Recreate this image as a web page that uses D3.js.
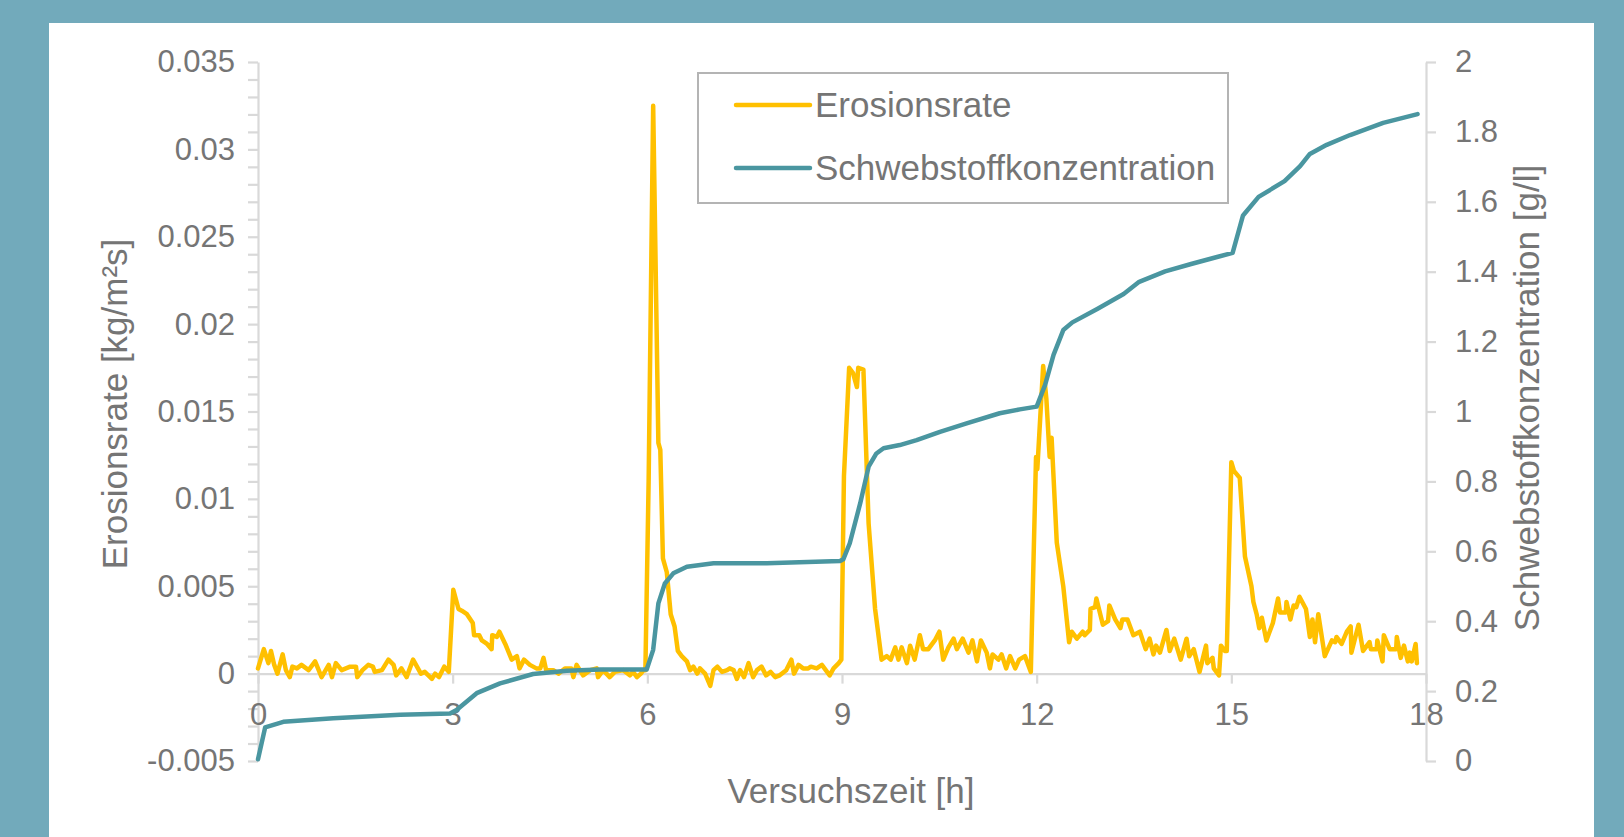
<!DOCTYPE html>
<html>
<head>
<meta charset="utf-8">
<script src="https://cdn.jsdelivr.net/npm/d3@7"></script>
<style>
  body { margin: 0; background: #72aabb; }
  svg { display: block; font-family: "Liberation Sans", Arial, sans-serif; }
</style>
</head>
<body>
<svg id="chart" width="1624" height="837"></svg>
<script>
// hours on the x axis
const xTicks = [0, 3, 6, 9, 12, 15, 18]

// left axis: erosion rate [kg/m²s]
const leftTicks = [-0.005, 0, 0.005, 0.01, 0.015, 0.02, 0.025, 0.03, 0.035]
const leftTickLabels = ["-0.005", "0", "0.005", "0.01", "0.015", "0.02", "0.025", "0.03", "0.035"]

// right axis: suspended sediment concentration [g/l]
const rightTicks = [0, 0.2, 0.4, 0.6, 0.8, 1, 1.2, 1.4, 1.6, 1.8, 2]
const rightTickLabels = ["0", "0.2", "0.4", "0.6", "0.8", "1", "1.2", "1.4", "1.6", "1.8", "2"]

const seriesNames = ["Erosionsrate", "Schwebstoffkonzentration"]

// Erosionsrate, time [h] and value [kg/m²s]
const erosionT = [
  0, 0.09, 0.16, 0.20, 0.25, 0.30, 0.38, 0.43, 0.49, 0.53, 0.60, 0.67, 0.78, 0.88, 0.98,
  1.09, 1.14, 1.20, 1.29, 1.42, 1.51, 1.53, 1.61, 1.70, 1.77, 1.80, 1.91, 2.01, 2.09, 2.13,
  2.21, 2.29, 2.39, 2.51, 2.57, 2.68, 2.73, 2.79, 2.87, 2.94,
  3.01, 3.09, 3.14, 3.22, 3.31, 3.33, 3.41, 3.45, 3.53, 3.60, 3.61, 3.68, 3.72, 3.81, 3.91,
  3.99, 4.03, 4.10, 4.19, 4.29, 4.35, 4.40, 4.44, 4.55, 4.63, 4.73, 4.83, 4.86, 4.91, 5.01,
  5.12, 5.22, 5.24, 5.32, 5.42, 5.50, 5.63, 5.73, 5.78, 5.84, 5.90, 5.94, 5.97,
  6.02, 6.09, 6.17, 6.20, 6.24, 6.30, 6.36, 6.42, 6.47, 6.53, 6.61, 6.66, 6.71, 6.77, 6.81,
  6.89, 6.97, 7.02, 7.08, 7.15, 7.23, 7.27, 7.33, 7.38, 7.43, 7.49, 7.56, 7.63, 7.69, 7.76,
  7.83, 7.90, 7.97, 8.04, 8.14, 8.22, 8.26, 8.33, 8.40, 8.48, 8.52, 8.61, 8.69, 8.75, 8.81,
  8.87, 8.95, 8.99,
  9.03, 9.11, 9.17, 9.23, 9.25, 9.33, 9.41, 9.51, 9.61, 9.69, 9.75, 9.82, 9.87, 9.92, 10.00,
  10.05, 10.12, 10.20, 10.25, 10.33, 10.43, 10.50, 10.56, 10.64, 10.72, 10.77, 10.86, 10.95,
  11.01, 11.08, 11.14, 11.23, 11.28, 11.32, 11.41, 11.46, 11.53, 11.59, 11.67, 11.73, 11.82, 11.91,
  11.99, 12.01, 12.10, 12.15, 12.20, 12.23, 12.31, 12.41, 12.50, 12.54, 12.62, 12.71, 12.74,
  12.82, 12.83, 12.90, 12.92, 13.02, 13.10, 13.12, 13.21, 13.29, 13.32, 13.40, 13.49, 13.59,
  13.68, 13.74, 13.80, 13.84, 13.90, 14.00, 14.05, 14.12, 14.22, 14.31, 14.35, 14.42, 14.51,
  14.61, 14.63, 14.71, 14.73, 14.81, 14.84, 14.90, 14.93,
  15.00, 15.04, 15.13, 15.21, 15.31, 15.34, 15.39, 15.43, 15.47, 15.54, 15.64, 15.72, 15.75,
  15.84, 15.85, 15.91, 15.96, 16.00, 16.05, 16.15, 16.21, 16.25, 16.29, 16.34, 16.44, 16.55,
  16.60, 16.62, 16.70, 16.78, 16.84, 16.85, 16.96, 17.03, 17.13, 17.15, 17.24, 17.25, 17.33,
  17.35, 17.44, 17.54, 17.55, 17.61, 17.66, 17.72, 17.75, 17.78, 17.84, 17.86
]
const erosionV = [
  0.0003, 0.0014, 0.0006, 0.0013, 0.0005, 0.0000, 0.0011, 0.0002, -0.0002, 0.0004, 0.0003, 0.0005, 0.0002, 0.0007, -0.0002,
  0.0005, -0.0002, 0.0006, 0.0002, 0.0004, 0.0004, -0.0002, 0.0002, 0.0005, 0.0004, 0.0001, 0.0002, 0.0008, 0.0005, -0.0001,
  0.0003, -0.0002, 0.0008, 0.0000, 0.0001, -0.0003, 0.0000, -0.0002, 0.0004, 0.0001,
  0.0048, 0.0037, 0.0036, 0.0034, 0.0029, 0.0022, 0.0022, 0.0019, 0.0017, 0.0014, 0.0022, 0.0021, 0.0024, 0.0017, 0.0008,
  0.0010, 0.0003, 0.0008, 0.0005, 0.0003, 0.0003, 0.0009, 0.0002, 0.0002, 0.0000, 0.0003, 0.0003, -0.0002, 0.0005, -0.0001,
  0.0002, 0.0003, -0.0002, 0.0002, -0.0002, 0.0001, 0.0002, -0.0001, 0.0001, -0.0002, 0.0000, 0.0002, 0.0002,
  0.0110, 0.0325, 0.0132, 0.0128, 0.0066, 0.0058, 0.0034, 0.0027, 0.0013, 0.0010, 0.0007, 0.0002, 0.0004, 0.0000, 0.0003,
  0.0000, -0.0007, 0.0002, 0.0004, 0.0001, 0.0002, 0.0003, 0.0002, -0.0003, 0.0002, -0.0002, 0.0006, -0.0002, 0.0002, 0.0004,
  -0.0001, 0.0001, -0.0002, -0.0001, 0.0002, 0.0008, 0.0000, 0.0005, 0.0003, 0.0003, 0.0004, 0.0003, 0.0005, 0.0002, -0.0001,
  0.0003, 0.0006, 0.0008,
  0.0113, 0.0175, 0.0172, 0.0164, 0.0175, 0.0174, 0.0086, 0.0037, 0.0008, 0.0010, 0.0008, 0.0015, 0.0008, 0.0015, 0.0006,
  0.0016, 0.0008, 0.0022, 0.0014, 0.0014, 0.0019, 0.0024, 0.0008, 0.0015, 0.0020, 0.0014, 0.0020, 0.0012,
  0.0019, 0.0007, 0.0019, 0.0012, 0.0003, 0.0011, 0.0008, 0.0011, 0.0003, 0.0010, 0.0003, 0.0008, 0.0010, 0.0001,
  0.0124, 0.0117, 0.0176, 0.0157, 0.0124, 0.0135, 0.0075, 0.0050, 0.0018, 0.0024, 0.0020, 0.0024, 0.0022,
  0.0025, 0.0037, 0.0038, 0.0043, 0.0028, 0.0030, 0.0039, 0.0031, 0.0026, 0.0031, 0.0031, 0.0022, 0.0024,
  0.0014, 0.0020, 0.0011, 0.0016, 0.0012, 0.0025, 0.0013, 0.0020, 0.0008, 0.0020, 0.0010, 0.0014, 0.0001,
  0.0016, 0.0006, 0.0009, 0.0003, -0.0001, 0.0016, 0.0013, 0.0013,
  0.0121, 0.0116, 0.0112, 0.0067, 0.0050, 0.0041, 0.0034, 0.0026, 0.0032, 0.0019, 0.0029, 0.0043, 0.0035,
  0.0035, 0.0041, 0.0031, 0.0039, 0.0038, 0.0044, 0.0037, 0.0021, 0.0031, 0.0018, 0.0034, 0.0010, 0.0019,
  0.0018, 0.0021, 0.0017, 0.0024, 0.0027, 0.0012, 0.0028, 0.0013, 0.0018, 0.0014, 0.0014, 0.0019, 0.0007,
  0.0022, 0.0014, 0.0014, 0.0021, 0.0009, 0.0016, 0.0007, 0.0012, 0.0007, 0.0017, 0.0006
]

// Schwebstoffkonzentration, time [h] and value [g/l]
const concT = [
  0, 0.11, 0.39, 1.16, 2.19, 2.96, 3.06, 3.37, 3.73, 4.24, 4.76, 5.27, 5.99, 6.09, 6.17,
  6.27, 6.40, 6.61, 7.02, 7.84, 8.97, 9.02, 9.12, 9.28, 9.41, 9.53, 9.64, 9.89, 10.15, 10.51,
  10.92, 11.43, 11.74, 12.00, 12.13, 12.26, 12.41, 12.55, 12.94, 13.34, 13.58, 13.98, 14.38,
  14.78, 15.02, 15.18, 15.42, 15.82, 16.06, 16.21, 16.47, 16.83, 17.34, 17.87
]
const concV = [
  0.005, 0.096, 0.112, 0.122, 0.132, 0.136, 0.146, 0.194, 0.222, 0.249, 0.258, 0.262, 0.262, 0.318, 0.451,
  0.508, 0.537, 0.556, 0.566, 0.566, 0.572, 0.577, 0.623, 0.737, 0.842, 0.880, 0.895, 0.904, 0.918, 0.942,
  0.966, 0.995, 1.006, 1.014, 1.076, 1.162, 1.233, 1.255, 1.294, 1.336, 1.371, 1.401, 1.422,
  1.442, 1.454, 1.561, 1.614, 1.659, 1.702, 1.737, 1.763, 1.791, 1.826, 1.851
]

const colors = { erosion: "#ffc000", conc: "#4a96a0", text: "#757575", axis: "#d9d9d9" }

const svg = d3.select("#chart")

// white chart area on the teal page
svg.append("rect")
  .attr("x", 49).attr("y", 23)
  .attr("width", 1545).attr("height", 837 - 23)
  .attr("fill", "#fff")

const x = d3.scaleLinear().domain([0, 18]).range([258, 1426])
const yL = d3.scaleLinear().domain([-0.005, 0.035]).range([761, 62])
const yR = d3.scaleLinear().domain([0, 2]).range([761, 62])

function styleAxis(g) {
  g.selectAll(".domain").attr("stroke", colors.axis).attr("stroke-width", 2.2)
  g.selectAll(".tick line").attr("stroke", colors.axis).attr("stroke-width", 2.2)
  g.selectAll(".tick text")
    .attr("fill", colors.text)
    .style("font-size", "31px")
    .style("font-family", "'Liberation Sans', Arial, sans-serif")
}

// left axis, minor ticks every 0.001, labels only on the majors
const minorTicks = d3.range(-5, 36).map(i => i / 1000)
const fmtLeft = d => {
  const i = leftTicks.findIndex(v => Math.abs(v - d) < 1e-9)
  return i >= 0 ? leftTickLabels[i] : ""
}
svg.append("g")
  .attr("transform", "translate(258,0)")
  .call(d3.axisLeft(yL).tickValues(minorTicks).tickFormat(fmtLeft)
    .tickSize(10).tickSizeOuter(0).tickPadding(13))
  .call(styleAxis)

// right axis
svg.append("g")
  .attr("transform", "translate(1426,0)")
  .call(d3.axisRight(yR).tickValues(rightTicks).tickFormat((d, i) => rightTickLabels[i])
    .tickSize(10).tickSizeOuter(0).tickPadding(19))
  .call(styleAxis)

// x axis sits on erosion = 0
svg.append("g")
  .attr("transform", "translate(0," + yL(0) + ")")
  .call(d3.axisBottom(x).tickValues(xTicks).tickFormat(d3.format("d"))
    .tickSize(10).tickSizeOuter(0).tickPadding(19))
  .call(styleAxis)

// axis titles
const title = (txt) => svg.append("text")
  .attr("fill", colors.text)
  .style("font-size", "35px")
  .attr("text-anchor", "middle")
  .text(txt)

title("Versuchszeit [h]").attr("x", 851).attr("y", 803)
title("Erosionsrate [kg/m²s]").attr("transform", "translate(127,404) rotate(-90)")
title("Schwebstoffkonzentration [g/l]").attr("transform", "translate(1539,398) rotate(-90)")

// series
const erosion = erosionT.map((t, i) => [t, erosionV[i]])
const conc = concT.map((t, i) => [t, concV[i]])

svg.append("path")
  .datum(erosion)
  .attr("fill", "none")
  .attr("stroke", colors.erosion)
  .attr("stroke-width", 4.5)
  .attr("stroke-linejoin", "round")
  .attr("stroke-linecap", "round")
  .attr("d", d3.line().x(d => x(d[0])).y(d => yL(d[1])))

svg.append("path")
  .datum(conc)
  .attr("fill", "none")
  .attr("stroke", colors.conc)
  .attr("stroke-width", 4.5)
  .attr("stroke-linejoin", "round")
  .attr("stroke-linecap", "round")
  .attr("d", d3.line().x(d => x(d[0])).y(d => yR(d[1])))

// legend
const legend = svg.append("g")
legend.append("rect")
  .attr("x", 698).attr("y", 73)
  .attr("width", 530).attr("height", 130)
  .attr("fill", "#fff")
  .attr("stroke", "#b4b4b4")
  .attr("stroke-width", 2)

const legendColors = [colors.erosion, colors.conc]
seriesNames.forEach((name, i) => {
  const cy = 105 + i * 63
  legend.append("line")
    .attr("x1", 736).attr("x2", 810)
    .attr("y1", cy).attr("y2", cy)
    .attr("stroke", legendColors[i])
    .attr("stroke-width", 4.5)
    .attr("stroke-linecap", "round")
  legend.append("text")
    .attr("x", 815).attr("y", cy + 12)
    .attr("fill", colors.text)
    .style("font-size", "35px")
    .text(name)
})
</script>
</body>
</html>
